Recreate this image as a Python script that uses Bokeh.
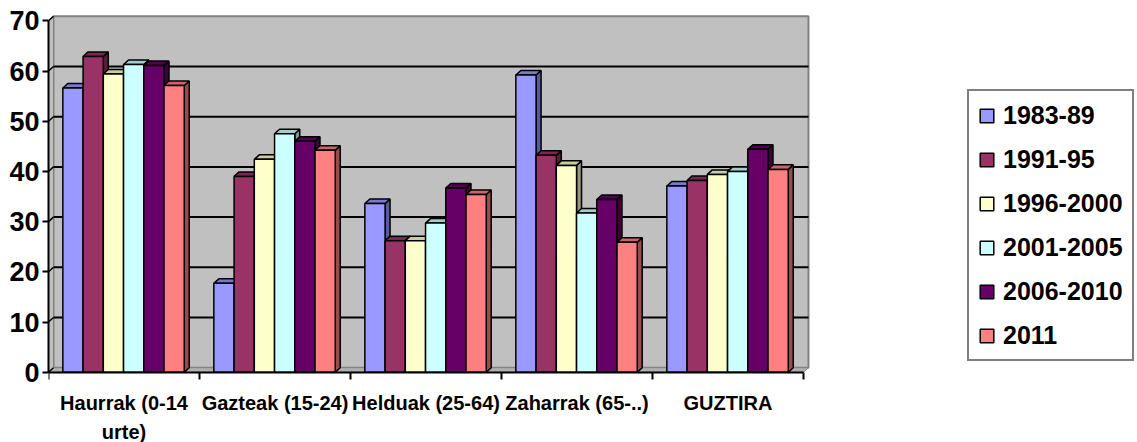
from bokeh.plotting import figure
from bokeh.models import FixedTicker, Label, Legend, LegendItem
from bokeh.embed import file_html
from bokeh.resources import INLINE

# ---------------- data ----------------
categories = ["Haurrak (0-14 urte)", "Gazteak (15-24)", "Helduak (25-64)",
              "Zaharrak (65-..)", "GUZTIRA"]
category_lines = [["Haurrak (0-14", "urte)"], ["Gazteak (15-24)"], ["Helduak (25-64)"],
                  ["Zaharrak (65-..)"], ["GUZTIRA"]]
series = ["1983-89", "1991-95", "1996-2000", "2001-2005", "2006-2010", "2011"]
v_1983_89 = [56.6, 17.7, 33.6, 59.2, 37.1]
v_1991_95 = [62.9, 39.0, 26.2, 43.2, 38.2]
v_1996_2000 = [59.4, 42.4, 26.2, 41.2, 39.4]
v_2001_2005 = [61.3, 47.5, 29.7, 31.7, 40.0]
v_2006_2010 = [61.1, 46.0, 36.7, 34.4, 44.4]
v_2011 = [57.1, 44.2, 35.4, 25.9, 40.4]
values = [v_1983_89, v_1991_95, v_1996_2000, v_2001_2005, v_2006_2010, v_2011]
y_ticks = [0, 10, 20, 30, 40, 50, 60, 70]
colors = ["#9999FF", "#993366", "#FFFFCC", "#CCFFFF", "#660066", "#FF8080"]

# ---------------- style / geometry ----------------
FONT = "Liberation Sans"
DX = 0.033      # 3D depth offset (x units)
DY = 0.9        # 3D depth offset (y units)
W = 0.134       # bar width
OFF = 0.095     # offset of the first bar in each group
NCAT = len(categories)
YMAX = y_ticks[-1]

WIDTH, HEIGHT = 1137, 442
LEFT = 48
PX_X = 151.0                  # px per category
PX_Y = 5.02                   # px per value unit
Y0_PX = 371.7                 # canvas y of value 0
x_end = (WIDTH - LEFT) / PX_X
y_start = -(HEIGHT - Y0_PX) / PX_Y
y_end = Y0_PX / PX_Y


def shade(hexcol, f):
    h = hexcol.lstrip("#")
    r, g, b = (int(h[i:i + 2], 16) for i in (0, 2, 4))
    return "#%02x%02x%02x" % (int(r * f), int(g * f), int(b * f))


p = figure(width=WIDTH, height=HEIGHT, x_range=(0, x_end), y_range=(y_start, y_end),
           output_backend="svg", toolbar_location=None,
           min_border_left=LEFT, min_border_right=0, min_border_top=0, min_border_bottom=0)
p.outline_line_color = None
p.xgrid.visible = False
p.ygrid.visible = False
p.background_fill_color = "white"
p.border_fill_color = "white"

# back wall
p.quad(left=[DX], right=[NCAT + DX], bottom=[DY], top=[YMAX + DY],
       fill_color="#C0C0C0", line_color="#808080", line_width=2)
# left wall
p.patch([0, DX, DX, 0], [0, DY, YMAX + DY, YMAX], fill_color="#C0C0C0",
        line_color="#808080", line_width=1)
# floor
p.patch([0, NCAT, NCAT + DX, DX], [0, 0, DY, DY], fill_color="#B0B0B0",
        line_color="#808080", line_width=1)

# gridlines on back wall + connectors on left wall
gt = y_ticks[1:-1]
p.segment(x0=[DX] * len(gt), y0=[t + DY for t in gt], x1=[NCAT + DX] * len(gt),
          y1=[t + DY for t in gt], line_color="black", line_width=2)
p.segment(x0=[0] * len(y_ticks), y0=y_ticks, x1=[DX] * len(y_ticks),
          y1=[t + DY for t in y_ticks], line_color="black", line_width=1.5)

# side and top faces (ordered left to right)
xs, ys, fc = [], [], []
for g in range(NCAT):
    for s in range(len(series)):
        v = values[s][g]
        L = g + OFF + s * W
        R = L + W
        xs.append([R, R + DX, R + DX, R])
        ys.append([0, DY, v + DY, v])
        fc.append(shade(colors[s], 0.6))
        xs.append([L, R, R + DX, L + DX])
        ys.append([v, v, v + DY, v + DY])
        fc.append(shade(colors[s], 0.8))
p.patches(xs, ys, fill_color=fc, line_color="black", line_width=1.5)

# front faces
items = []
for s in range(len(series)):
    xc = [g + OFF + s * W + W / 2 for g in range(NCAT)]
    r = p.vbar(x=xc, top=values[s], bottom=0, width=W, fill_color=colors[s],
               line_color="black", line_width=1.5)
    items.append(LegendItem(label=series[s], renderers=[r]))

# axes
p.yaxis.ticker = FixedTicker(ticks=y_ticks)
p.yaxis.bounds = (0, YMAX)
p.yaxis.axis_line_color = "black"
p.yaxis.axis_line_width = 2
p.yaxis.major_tick_out = 6
p.yaxis.major_tick_in = 0
p.yaxis.major_tick_line_width = 2
p.yaxis.minor_tick_line_color = None
p.yaxis.major_label_standoff = 3
p.yaxis.major_label_text_font = FONT
p.yaxis.major_label_text_font_size = "27px"
p.yaxis.major_label_text_font_style = "bold"
p.yaxis.major_label_text_color = "black"

p.xaxis.fixed_location = 0
p.xaxis.ticker = FixedTicker(ticks=[], minor_ticks=list(range(NCAT + 1)))
p.xaxis.bounds = (0, NCAT)
p.xaxis.axis_line_color = "black"
p.xaxis.axis_line_width = 2
p.xaxis.minor_tick_out = 7
p.xaxis.minor_tick_in = 0
p.xaxis.minor_tick_line_width = 2
p.xaxis.minor_tick_line_color = "black"
p.xaxis.major_tick_line_color = None

# category labels
for g, lines in enumerate(category_lines):
    for k, txt in enumerate(lines):
        p.add_layout(Label(x=g + 0.5, y=-(31 + 29 * k) / PX_Y, x_units="data", y_units="data",
                           text=txt, text_align="center", text_baseline="middle",
                           text_font=FONT, text_font_size="20px", text_font_style="bold",
                           text_color="black"))

legend = Legend(items=items, location=(967 - LEFT, HEIGHT - 361), orientation="vertical")
legend.label_text_font = FONT
legend.label_text_font_size = "25px"
legend.label_text_font_style = "bold"
legend.label_text_color = "black"
legend.label_height = 30
legend.glyph_height = 17
legend.glyph_width = 17
legend.spacing = 14
legend.padding = 9
legend.margin = 0
legend.label_standoff = 8
legend.border_line_color = "black"
legend.border_line_width = 2
legend.background_fill_color = "white"
legend.background_fill_alpha = 1.0
p.add_layout(legend, "center")

open("out.html", "w").write(file_html(p, INLINE))
